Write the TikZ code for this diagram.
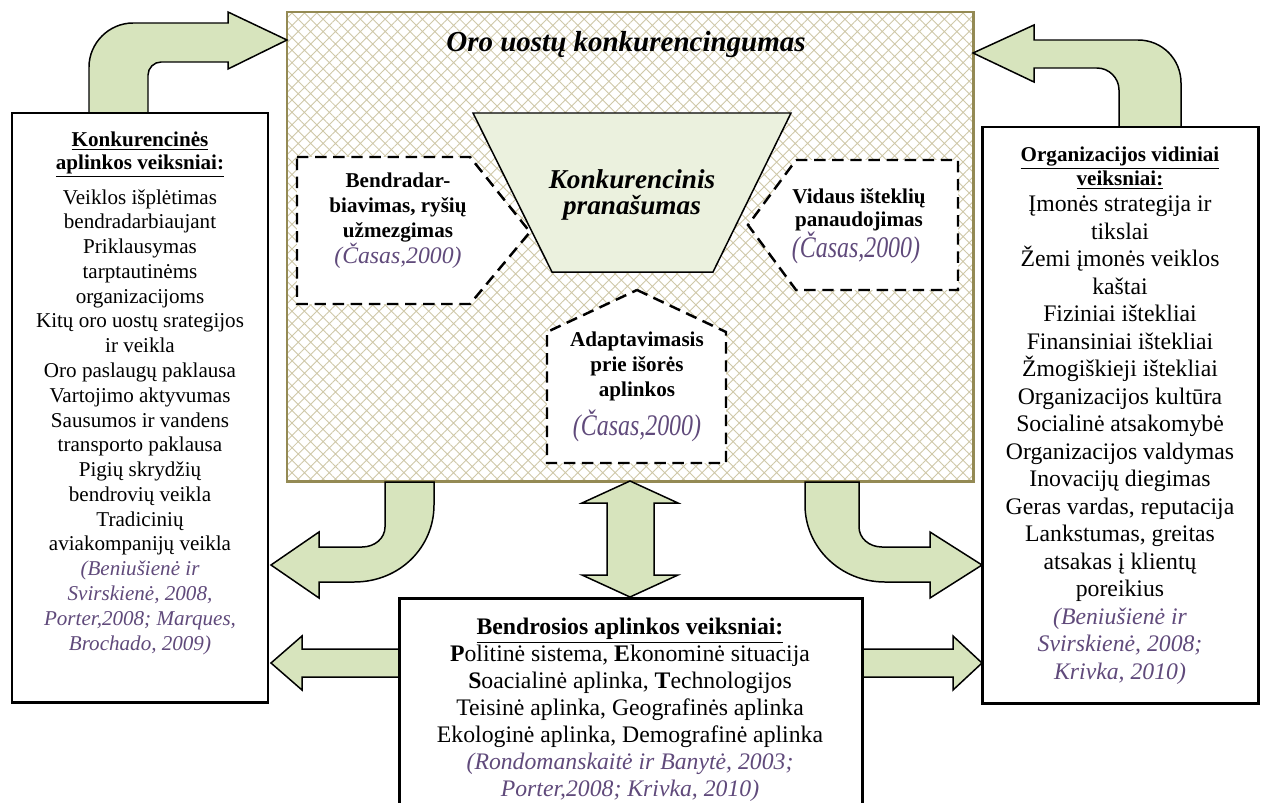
\documentclass[tikz,border=0pt]{standalone}
\usepackage{fontspec}
\setmainfont{Liberation Serif}
\newfontfamily\condserif[FakeStretch=0.8]{Liberation Serif}
\usepackage{tikz}
\usetikzlibrary{
  patterns.meta
}
\definecolor{arrowgreen}{HTML}{D7E4BD}
\definecolor{palegreen}{HTML}{EBF1DE}
\definecolor{olivebrown}{HTML}{948A54}
\definecolor{hatchtan}{HTML}{CFC8A8}
\definecolor{citepurple}{HTML}{604A7B}
\tikzset{
  blockarrow/.style={fill=arrowgreen, draw=black, line width=0.85pt},
  framebox/.style={fill=white, draw=black, line width=1.7pt},
  dashbox/.style={fill=white, draw=black, line width=1.4pt, dash pattern=on 6.5pt off 3.8pt},
  boxtext/.style={align=center, inner sep=0pt}
}
\newcommand{\refsrc}[1]{{\normalfont\itshape\color{citepurple}#1}}
\newcommand{\bigref}[1]{{\condserif\itshape\fontsize{17}{17}\selectfont\color{citepurple}#1}}
\begin{document}
\begin{tikzpicture}[x=0.2mm,y=-0.2mm]
	\useasboundingbox (0,0) rectangle (1262,802);
	\clip (0,0) rectangle (1262,802);
	\fill[white] (287,12) rectangle (973,481);
	\fill[pattern={Hatch[angle=45,distance=5pt,line width=0.5pt]}, pattern color=hatchtan] (287,12) rectangle (973,481);
	\draw[line width=1.7pt, draw=olivebrown] (287,12) rectangle (973,481);
	\node[boxtext, font=\fontsize{16.5}{18}\selectfont\bfseries\itshape] (konkurencingumas) at (626,45) {Oro uostų konkurencingumas};
	\draw[dashbox] (297,157) -- (470,157) -- (530,232) -- (470,304) -- (297,304) -- cycle;
	\draw[dashbox] (796,160) -- (958,160) -- (958,290) -- (796,290) -- (748,225) -- cycle;
	\draw[dashbox] (637,290) -- (726,332) -- (726,463) -- (547,463) -- (547,332) -- cycle;
	\draw[fill=palegreen, line width=0.85pt] (473,113) -- (791,113) -- (713,272) -- (552,272) -- cycle;
	\node[boxtext, font=\fontsize{15.5}{15.2}\selectfont\bfseries\itshape] (pranasumas) at (632,195) {Konkurencinis\\pranašumas};
	\node[boxtext, font=\fontsize{12}{14}\selectfont\bfseries] (bendradarbiavimas) at (398,221) {Bendradar-\\biavimas, ryšių\\užmezgimas\\{\fontsize{13.5}{14}\selectfont\refsrc{(Časas,2000)}}};
	\node[boxtext, font=\fontsize{12}{13}\selectfont\bfseries] (istekliai) at (859,209.5) {Vidaus išteklių\\panaudojimas};
	\node[boxtext] (isteklref) at (856,248) {\bigref{(Časas,2000)}};
	\node[boxtext, font=\fontsize{12}{14.2}\selectfont\bfseries] (adaptavimasis) at (637,366) {Adaptavimasis\\prie išorės\\aplinkos};
	\node[boxtext] (adaptref) at (637,426) {\bigref{(Časas,2000)}};
	\draw[blockarrow] (89,113) -- (89,67) .. controls (89,43) and (109,23) .. (133,23) -- (228,23) -- (228,12) -- (287,40) -- (228,69) -- (228,62) -- (161,62) .. controls (154,62) and (148,68) .. (148,75) -- (148,113) -- cycle;
	\draw[blockarrow] (1119,127) -- (1119,90) .. controls (1119,78) and (1109,68) .. (1097,68) -- (1034,68) -- (1034,82) -- (973,53) -- (1034,25) -- (1034,40) -- (1138,40) .. controls (1162,40) and (1181,59) .. (1181,83) -- (1181,127) -- cycle;
	\draw[blockarrow] (385,482) -- (385,527) .. controls (385,538) and (375,547) .. (362,547) -- (319,547) -- (319,532) -- (271,565) -- (319,598) -- (319,582) -- (354,582) .. controls (400,582) and (434,547) .. (434,505) -- (434,482) -- cycle;
	\draw[blockarrow] (859,482) -- (859,527) .. controls (859,538) and (869,547) .. (882,547) -- (930,547) -- (930,532) -- (982,565) -- (930,598) -- (930,582) -- (885,582) .. controls (840,582) and (805,547) .. (805,505) -- (805,482) -- cycle;
	\draw[blockarrow] (630,481) -- (678,503) -- (654,503) -- (654,575) -- (678,575) -- (630,597) -- (582,575) -- (607,575) -- (607,503) -- (582,503) -- cycle;
	\draw[blockarrow] (399,649) -- (302,649) -- (302,636) -- (271,663) -- (302,690) -- (302,677) -- (399,677) -- cycle;
	\draw[blockarrow] (862,649) -- (953,649) -- (953,636) -- (982,663) -- (953,690) -- (953,677) -- (862,677) -- cycle;
	\draw[framebox] (12,113) rectangle (268,702);
	\draw[framebox] (982,127) rectangle (1258,703);
	\draw[framebox] (399,598) rectangle (862,840);
	\node[boxtext, font=\fontsize{12}{13}\selectfont\bfseries] (konktitle) at (140,155) {\underline{Konkurencinės}\\\underline{aplinkos veiksniai:}};
	\node[boxtext, font=\fontsize{12}{14.1}\selectfont] (konkbody) at (140,422) {Veiklos išplėtimas\\bendradarbiaujant\\Priklausymas\\tarptautinėms\\organizacijoms\\Kitų oro uostų srategijos\\ir veikla\\Oro paslaugų paklausa\\Vartojimo aktyvumas\\Sausumos ir vandens\\transporto paklausa\\Pigių skrydžių\\bendrovių veikla\\Tradicinių\\aviakompanijų veikla\\\refsrc{(Beniušienė ir}\\\refsrc{Svirskienė, 2008,}\\\refsrc{Porter,2008; Marques,}\\\refsrc{Brochado, 2009)}};
	\node[boxtext, font=\fontsize{12}{12.5}\selectfont\bfseries] (orgtitle) at (1120,168) {\underline{Organizacijos vidiniai}\\\underline{veiksniai:}};
	\node[boxtext, font=\fontsize{13.5}{15.65}\selectfont] (orgbody) at (1120,440) {Įmonės strategija ir\\tikslai\\Žemi įmonės veiklos\\kaštai\\Fiziniai ištekliai\\Finansiniai ištekliai\\Žmogiškieji ištekliai\\Organizacijos kultūra\\Socialinė atsakomybė\\Organizacijos valdymas\\Inovacijų diegimas\\Geras vardas, reputacija\\Lankstumas, greitas\\atsakas į klientų\\poreikius\\\refsrc{(Beniušienė ir}\\\refsrc{Svirskienė, 2008;}\\\refsrc{Krivka, 2010)}};
	\node[boxtext, font=\fontsize{13.5}{15.4}\selectfont] (bendrosios) at (630,710) {\underline{\textbf{Bendrosios aplinkos veiksniai:}}\\\textbf{P}olitinė sistema, \textbf{E}konominė situacija\\\textbf{S}oacialinė aplinka, \textbf{T}echnologijos\\Teisinė aplinka, Geografinės aplinka\\Ekologinė aplinka, Demografinė aplinka\\\refsrc{(Rondomanskaitė ir Banytė, 2003;}\\\refsrc{Porter,2008; Krivka, 2010)}};
\end{tikzpicture}
\end{document}
